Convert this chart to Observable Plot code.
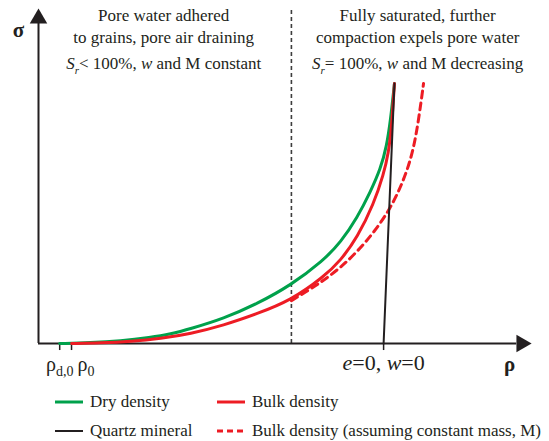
<!DOCTYPE html>
<html>
<head>
<meta charset="utf-8">
<script src="https://cdn.jsdelivr.net/npm/d3@7"></script>
<script src="https://cdn.jsdelivr.net/npm/@observablehq/plot@0.6"></script>
<style>
  html, body { margin: 0; padding: 0; background: #fff; }
  #chart { position: relative; width: 549px; height: 441px; font-family: "Liberation Serif", "Times New Roman", serif; color: #231f20; }
  #chart svg.plot { position: absolute; left: 0; top: 0; }
  .legend { position: absolute; left: 55px; top: 387px; display: grid; grid-template-columns: 162px auto; grid-auto-rows: 29px; font-size: 17px; }
  .legend .item { display: flex; align-items: center; gap: 7px; white-space: nowrap; }
  .legend svg { display: block; }
</style>
</head>
<body>
<div id="chart"></div>
<script>
// ---- Data (arbitrary units, axis origin = 0, axis end = 100) ----
const dryRho   = [4.3, 10.6, 16.6, 22.7, 26.8, 30.8, 37.5, 44.4, 51.1, 57.8, 61.3, 64.7, 67.3, 69.4, 70.6, 71.4, 72.2];
const drySigma = [0, 0.21, 0.75, 1.8, 2.8, 4.4, 7.4, 11.9, 17.3, 24.8, 30.2, 37.7, 45.2, 52.2, 58.8, 66.6, 77.6];

const bulkRho   = [6.7, 12.6, 18.7, 24.8, 30.8, 37.5, 44.4, 51.1, 57.8, 61.3, 64.7, 68.0, 70.0, 71.0, 71.6, 72.2];
const bulkSigma = [0, 0.15, 0.6, 1.5, 2.9, 5.4, 8.9, 12.8, 19.8, 24.8, 31.7, 41.7, 50.5, 57.0, 64.2, 77.6];

const constMassRho   = [51.3, 55.2, 57.8, 61.3, 64.7, 68.0, 71.4, 74.0, 75.9, 77.1, 78.1];
const constMassSigma = [12.8, 16.3, 18.8, 22.7, 27.5, 33.1, 40.3, 48.4, 56.7, 66.6, 77.6];

const quartzRho   = [70.0, 72.2];
const quartzSigma = [0, 77.6];

const boundaryRho = [51.3];
const tickRho    = [4.3, 6.7, 70.0];
const tickLabels = ["ρd,0", "ρ0", "e=0, w=0"];

const leftNotes  = ["Pore water adhered", "to grains, pore air draining", "Sr< 100%, w and M constant"];
const rightNotes = ["Fully saturated, further", "compaction expels pore water", "Sr= 100%, w and M decreasing"];

const legendLabels = ["Dry density", "Bulk density", "Quartz mineral", "Bulk density (assuming constant mass, M)"];

// ---- Colours ----
const GREEN = "#00a14b", RED = "#ed1c24", INK = "#231f20", GREY = "#3d3d3d";

const zip = (xs, ys) => xs.map((x, i) => ({x, y: ys[i]}));
const dry = zip(dryRho, drySigma);
const bulk = zip(bulkRho, bulkSigma);
const constMass = zip(constMassRho, constMassSigma);
const quartz = zip(quartzRho, quartzSigma);
const ticks = tickRho.map((x, i) => ({x, label: tickLabels[i]}));

const serif = "'Liberation Serif', 'Times New Roman', serif";

const plot = Plot.plot({
  width: 549,
  height: 385,
  x: {domain: [0, 100], range: [38, 531], axis: null},
  y: {domain: [0, 100], range: [343, 8], axis: null},
  style: {fontFamily: serif, color: INK, background: "white", overflow: "visible"},
  marks: [
    // phase boundary
    Plot.ruleX(boundaryRho, {x: d => d, y1: 0, y2: 100, stroke: GREY, strokeWidth: 1.6, strokeDasharray: "4,3"}),
    // axes
    Plot.ruleY([0], {x1: 0, x2: 97, stroke: INK, strokeWidth: 2}),
    Plot.ruleX([0], {y1: 0, y2: 96, stroke: INK, strokeWidth: 2}),
    Plot.dot([{x: 100, y: 0}], {x: "x", y: "y", symbol: "triangle", r: 6.5, fill: INK, stroke: null, rotate: 90, dx: -10}),
    Plot.dot([{x: 0, y: 100}], {x: "x", y: "y", symbol: "triangle", r: 6.5, fill: INK, stroke: null, dy: 10}),
    // ticks
    Plot.ruleX(ticks, {x: "x", y1: 0, y2: -2.1, stroke: INK, strokeWidth: 1.5}),
    // curves
    Plot.line(dry, {x: "x", y: "y", stroke: GREEN, strokeWidth: 3, curve: "basis"}),
    Plot.line(constMass, {x: "x", y: "y", stroke: RED, strokeWidth: 3, strokeDasharray: "7,5", curve: "basis"}),
    Plot.line(bulk, {x: "x", y: "y", stroke: RED, strokeWidth: 3, curve: "basis"}),
    Plot.line(quartz, {x: "x", y: "y", stroke: INK, strokeWidth: 2}),
    // tick labels
    Plot.text([ticks[0]], {x: "x", y: 0, text: "label", fontSize: 20, dy: 21, textAnchor: "middle", fill: INK}),
    Plot.text([ticks[1]], {x: "x", y: 0, text: "label", fontSize: 20, dy: 21, dx: 6, textAnchor: "start", fill: INK}),
    Plot.text([ticks[2]], {x: "x", y: 0, text: "label", fontSize: 22, dy: 19, textAnchor: "middle", fill: INK}),
    // axis titles
    Plot.text(["σ"], {x: 0, y: 100, text: d => d, dx: -20, dy: 22, fontSize: 21, fontWeight: "bold", fill: INK}),
    Plot.text(["ρ"], {x: 100, y: 0, text: d => d, dx: -22, dy: 21, fontSize: 21, fontWeight: "bold", fill: INK}),
    // notes
    Plot.text(leftNotes, {x: 25.4, y: (d, i) => [97.9, 91.3, 83.6][i], text: d => d, fontSize: 17, fill: INK}),
    Plot.text(rightNotes, {x: 76.9, y: (d, i) => [97.9, 91.3, 83.6][i], text: d => d, fontSize: 17, fill: INK})
  ]
});
plot.classList.add("plot");

// rich text (italics, subscripts)
function rich(root, plain, parts) {
  d3.select(root).selectAll("text").filter(function() { return this.textContent === plain; }).each(function() {
    const t = d3.select(this);
    t.text(null);
    let shift = 0;
    for (const p of parts) {
      const s = t.append("tspan").text(p.t);
      if (p.i) s.attr("font-style", "italic");
      if (p.sub) {
        s.attr("font-size", p.size).attr("dy", p.sub - shift);
        shift = p.sub;
      } else if (shift) {
        s.attr("dy", -shift);
        shift = 0;
      }
    }
  });
}
rich(plot, "ρd,0", [{t: "ρ"}, {t: "d,0", sub: 5, size: "14px"}]);
rich(plot, "ρ0", [{t: "ρ"}, {t: "0", sub: 5, size: "14px"}]);
rich(plot, "e=0, w=0", [{t: "e", i: true}, {t: "=0, "}, {t: "w", i: true}, {t: "=0"}]);
rich(plot, leftNotes[2], [{t: "S", i: true}, {t: "r", i: true, sub: 5, size: "11px"}, {t: "< 100%, "}, {t: "w", i: true}, {t: " and M constant"}]);
rich(plot, rightNotes[2], [{t: "S", i: true}, {t: "r", i: true, sub: 5, size: "11px"}, {t: "= 100%, "}, {t: "w", i: true}, {t: " and M decreasing"}]);

const chart = document.getElementById("chart");
chart.appendChild(plot);

// legend
const legendStyles = [
  {stroke: GREEN, dash: null, width: 3},
  {stroke: RED, dash: null, width: 3},
  {stroke: INK, dash: null, width: 2},
  {stroke: RED, dash: "6,4", width: 3}
];
const legend = d3.select(chart).append("div").attr("class", "legend");
legendLabels.forEach((label, i) => {
  const st = legendStyles[i];
  const item = legend.append("div").attr("class", "item");
  const sw = item.append("svg").attr("width", 28).attr("height", 6);
  sw.append("line").attr("x1", 0).attr("x2", 28).attr("y1", 3).attr("y2", 3)
    .attr("stroke", st.stroke).attr("stroke-width", st.width)
    .attr("stroke-dasharray", st.dash);
  item.append("span").text(label);
});
</script>
</body>
</html>
